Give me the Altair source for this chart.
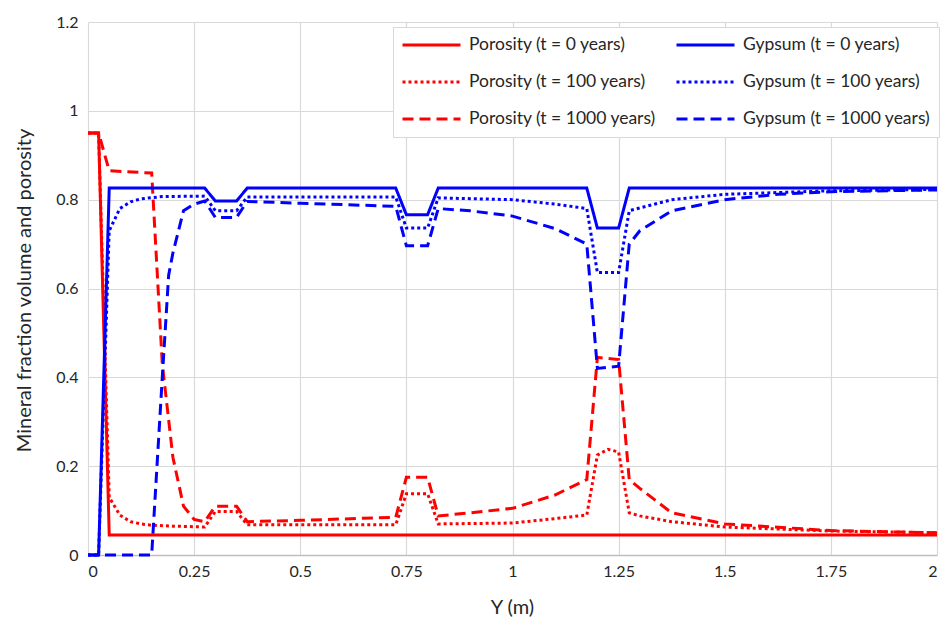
import altair as alt
import pandas as pd

series_names = [
    "Porosity (t = 0 years)", "Porosity (t = 100 years)", "Porosity (t = 1000 years)",
    "Gypsum (t = 0 years)", "Gypsum (t = 100 years)", "Gypsum (t = 1000 years)",
]
series_colors = ["#FF0000", "#FF0000", "#FF0000", "#0000FF", "#0000FF", "#0000FF"]
series_dashes = [[1, 0], [3, 3], [11, 6], [1, 0], [3, 3], [11, 6]]

por0_x = [0, 0.025, 0.05, 2]
por0_y = [0.95, 0.95, 0.045, 0.045]

gyp0_x = [0, 0.025, 0.05, 0.275, 0.3, 0.35, 0.375, 0.725, 0.75, 0.8, 0.825,
          1.175, 1.2, 1.25, 1.275, 2]
gyp0_y = [0, 0, 0.826, 0.826, 0.797, 0.797, 0.826, 0.826, 0.766, 0.766, 0.826,
          0.826, 0.736, 0.736, 0.826, 0.826]

por100_x = [0, 0.025, 0.05, 0.075, 0.1, 0.125, 0.15, 0.2, 0.275, 0.3, 0.35, 0.375,
            0.725, 0.75, 0.8, 0.825, 1.0, 1.1, 1.175, 1.2, 1.225, 1.25, 1.275,
            1.3, 1.375, 1.5, 1.75, 2]
por100_y = [0.95, 0.95, 0.13, 0.09, 0.075, 0.07, 0.067, 0.065, 0.063, 0.098, 0.098, 0.068,
            0.068, 0.138, 0.138, 0.07, 0.072, 0.082, 0.09, 0.225, 0.238, 0.232, 0.095,
            0.088, 0.075, 0.063, 0.054, 0.05]

gyp100_x = [0, 0.025, 0.05, 0.075, 0.1, 0.125, 0.175, 0.275, 0.3, 0.35, 0.375,
            0.725, 0.75, 0.8, 0.825, 1.0, 1.1, 1.175, 1.2, 1.25, 1.275, 1.375,
            1.5, 1.75, 2]
gyp100_y = [0, 0, 0.73, 0.78, 0.795, 0.802, 0.807, 0.808, 0.775, 0.775, 0.806,
            0.806, 0.736, 0.736, 0.804, 0.8, 0.79, 0.78, 0.636, 0.636, 0.775, 0.80,
            0.812, 0.82, 0.823]

por1000_x = [0, 0.025, 0.05, 0.15, 0.175, 0.2, 0.225, 0.25, 0.275, 0.3, 0.35, 0.375,
             0.5, 0.725, 0.75, 0.8, 0.825, 0.9, 1.0, 1.1, 1.175, 1.2, 1.25, 1.275,
             1.3, 1.375, 1.5, 1.75, 2]
por1000_y = [0.95, 0.95, 0.865, 0.86, 0.43, 0.22, 0.11, 0.08, 0.075, 0.11, 0.11, 0.075,
             0.078, 0.085, 0.175, 0.175, 0.088, 0.095, 0.105, 0.135, 0.17, 0.445, 0.44, 0.17,
             0.15, 0.095, 0.07, 0.055, 0.05]

gyp1000_x = [0, 0.15, 0.175, 0.19, 0.2, 0.225, 0.25, 0.275, 0.3, 0.35, 0.375, 0.5,
             0.725, 0.75, 0.8, 0.825, 0.9, 1.0, 1.1, 1.175, 1.2, 1.25, 1.275, 1.3,
             1.375, 1.5, 1.625, 1.75, 2]
gyp1000_y = [0, 0, 0.40, 0.63, 0.68, 0.775, 0.79, 0.797, 0.76, 0.76, 0.796, 0.792,
             0.785, 0.696, 0.696, 0.78, 0.775, 0.763, 0.735, 0.70, 0.42, 0.425, 0.70, 0.73,
             0.775, 0.80, 0.812, 0.818, 0.822]

x_ticks = [0, 0.25, 0.5, 0.75, 1, 1.25, 1.5, 1.75, 2]
y_ticks = [0, 0.2, 0.4, 0.6, 0.8, 1, 1.2]

all_x = [por0_x, por100_x, por1000_x, gyp0_x, gyp100_x, gyp1000_x]
all_y = [por0_y, por100_y, por1000_y, gyp0_y, gyp100_y, gyp1000_y]

rows = []
for name, xs, ys in zip(series_names, all_x, all_y):
    for i, (xv, yv) in enumerate(zip(xs, ys)):
        rows.append({"series": name, "x": xv, "y": yv, "i": i})
df = pd.DataFrame(rows)

FONT = "Lato"
TXT = "#262626"

legend = alt.Legend(
    title=None, orient="none", legendX=305, legendY=5, columns=2,
    symbolType="stroke", symbolSize=3364, symbolStrokeWidth=3,
    clipHeight=20,
    labelFontSize=17.5, labelFont=FONT, labelColor=TXT, labelLimit=400,
    rowPadding=17, columnPadding=18, padding=8,
    strokeColor="#D9D9D9", fillColor="white", labelOffset=7,
)

chart = alt.Chart(df).mark_line(strokeWidth=3, strokeCap="butt").encode(
    x=alt.X("x:Q", scale=alt.Scale(domain=[0, 2], nice=False),
            axis=alt.Axis(values=x_ticks, labelExpr="'' + datum.value", title="Y (m)",
                          titleX=424, titleY=52, titleBaseline="middle")),
    y=alt.Y("y:Q", scale=alt.Scale(domain=[0, 1.2], nice=False),
            axis=alt.Axis(values=y_ticks, labelExpr="'' + datum.value",
                          title="Mineral fraction volume and porosity",
                          titleX=-64, titleY=268, titleBaseline="middle")),
    color=alt.Color("series:N", scale=alt.Scale(domain=series_names, range=series_colors),
                    legend=legend),
    strokeDash=alt.StrokeDash("series:N", scale=alt.Scale(domain=series_names, range=series_dashes),
                              legend=legend),
    order=alt.Order("i:Q"),
    detail="series:N",
).properties(
    width=849, height=533,
    autosize=alt.AutoSizeParams(type="none"),
    padding={"left": 88, "top": 22, "right": 12, "bottom": 71},
).configure_view(stroke=None).configure_axis(
    grid=True, gridColor="#D9D9D9", gridWidth=1.2,
    domain=False, ticks=False,
    labelFont=FONT, labelFontSize=16, labelColor=TXT, labelPadding=10,
    titleFont=FONT, titleFontSize=20, titleColor=TXT, titleFontWeight="normal",
).configure_axisX(domain=True, domainColor="#BFBFBF", domainWidth=1.5, labelPadding=8)

chart.save("out.html", embed_options={"renderer": "svg", "actions": False})
